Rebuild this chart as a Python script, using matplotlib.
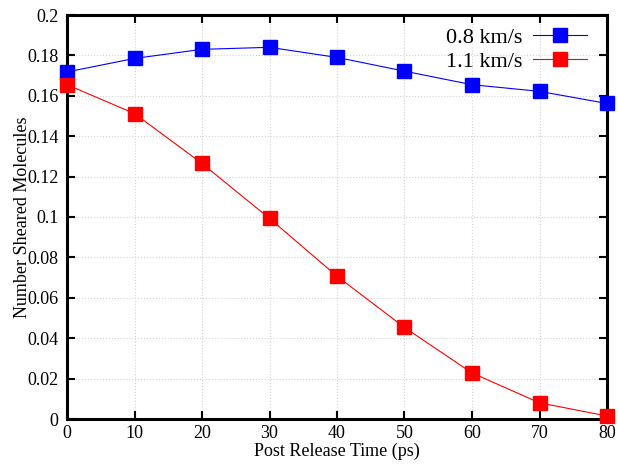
import matplotlib
matplotlib.use("Agg")
import matplotlib.pyplot as plt

time_ps = [0, 10, 20, 30, 40, 50, 60, 70, 80]
v08 = [0.1718, 0.1785, 0.1830, 0.1840, 0.1790, 0.1722, 0.1655, 0.1622, 0.1562]
v11 = [0.1655, 0.1512, 0.1265, 0.0993, 0.0707, 0.0453, 0.0228, 0.0080, 0.0015]
series_labels = ["0.8 km/s", "1.1 km/s"]
xticks = [0, 10, 20, 30, 40, 50, 60, 70, 80]
yticks = [0, 0.02, 0.04, 0.06, 0.08, 0.1, 0.12, 0.14, 0.16, 0.18, 0.2]
ytick_labels = ["0", "0.02", "0.04", "0.06", "0.08", "0.1", "0.12", "0.14", "0.16", "0.18", "0.2"]

plt.rcParams['font.family'] = ['Liberation Serif', 'DejaVu Serif']

fig = plt.figure(figsize=(6.19, 4.66), dpi=100)
ax = fig.add_axes([67/619, 1 - 419/466, (607-67)/619, (419-15)/466])

ax.plot(time_ps, v08, color='blue', lw=0.8, marker='s', ms=9.5, mec='blue', mfc='blue',
        label=series_labels[0], clip_on=False, zorder=3)
ax.plot(time_ps, v11, color='red', lw=0.8, marker='s', ms=9.5, mec='red', mfc='red',
        label=series_labels[1], clip_on=False, zorder=3)

ax.set_xlim(0, 80)
ax.set_ylim(0, 0.2)
ax.set_xticks(xticks)
ax.set_yticks(yticks)
ax.set_yticklabels(ytick_labels)
ax.grid(True, color='#d4d4d4', linestyle=':', linewidth=0.8)
ax.set_axisbelow(True)
for s in ax.spines.values():
    s.set_linewidth(2.2)
ax.tick_params(direction='in', length=6, width=1.5, top=True, right=True,
               labelsize=13)
ax.tick_params(axis='y', pad=6)
ax.tick_params(axis='x', pad=4)
ax.set_xlabel("Post Release Time (ps)", fontsize=13, labelpad=1)
ax.set_ylabel("Number Sheared Molecules", fontsize=13)
ax.yaxis.set_label_coords(-0.066, 0.5)

leg = ax.legend(loc='upper right', bbox_to_anchor=(0.985, 1.0), frameon=False,
                markerfirst=False, fontsize=16, handlelength=2.4, borderaxespad=0.15,
                labelspacing=0.15, handletextpad=0.5)

fig.savefig("out.png", dpi=100)
